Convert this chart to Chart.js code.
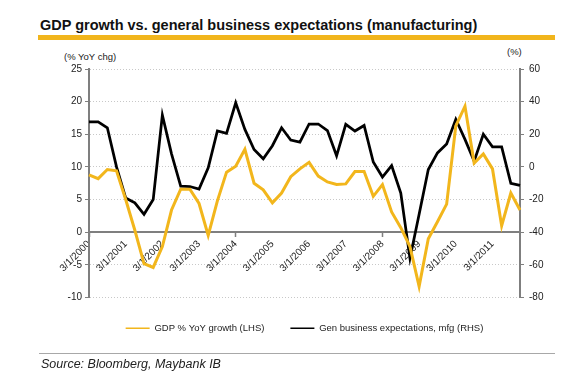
<!DOCTYPE html>
<html><head><meta charset="utf-8">
<script src="https://cdn.jsdelivr.net/npm/chart.js@4.4.0/dist/chart.umd.min.js"></script>
<style>
html,body{margin:0;padding:0;background:#fff;}
#wrap{position:relative;width:572px;height:378px;overflow:hidden;font-family:"Liberation Sans",Arial,sans-serif;}
#c{position:absolute;left:0;top:0;}
.t{position:absolute;white-space:nowrap;color:#111;line-height:1;}
</style></head><body>
<div id="wrap">
<div class="t" style="left:40px;top:18px;font-weight:bold;font-size:14.5px;">GDP growth vs. general business expectations (manufacturing)</div>
<div style="position:absolute;left:38px;top:35px;width:517px;height:5px;background:#F1B51C"></div>
<div class="t" style="left:64px;top:52px;font-size:9.5px;color:#222;">(% YoY chg)</div>
<div class="t" style="left:507px;top:47px;font-size:9.5px;color:#222;">(%)</div>
<canvas id="c" width="572" height="378"></canvas>
<div style="position:absolute;left:39px;top:353px;width:516px;height:1px;background:#a8a8a8"></div>
<div class="t" style="left:41px;top:358px;font-size:12.5px;font-style:italic;color:#222;">Source: Bloomberg, Maybank IB</div>
</div>
<script>
const categories = [
  '3/1/2000','6/1/2000','9/1/2000','12/1/2000',
  '3/1/2001','6/1/2001','9/1/2001','12/1/2001',
  '3/1/2002','6/1/2002','9/1/2002','12/1/2002',
  '3/1/2003','6/1/2003','9/1/2003','12/1/2003',
  '3/1/2004','6/1/2004','9/1/2004','12/1/2004',
  '3/1/2005','6/1/2005','9/1/2005','12/1/2005',
  '3/1/2006','6/1/2006','9/1/2006','12/1/2006',
  '3/1/2007','6/1/2007','9/1/2007','12/1/2007',
  '3/1/2008','6/1/2008','9/1/2008','12/1/2008',
  '3/1/2009','6/1/2009','9/1/2009','12/1/2009',
  '3/1/2010','6/1/2010','9/1/2010','12/1/2010',
  '3/1/2011','6/1/2011','9/1/2011','12/1/2011'
];
const tickLabels = ['3/1/2000','3/1/2001','3/1/2002','3/1/2003','3/1/2004','3/1/2005',
  '3/1/2006','3/1/2007','3/1/2008','3/1/2009','3/1/2010','3/1/2011'];
const gdpGrowth = [
  8.8, 8.2, 9.6, 9.4,
  5.0, 0.3, -4.8, -5.4,
  -2.2, 3.4, 6.6, 6.6,
  4.4, -0.5, 4.8, 9.2,
  10.1, 12.7, 7.5, 6.5,
  4.5, 6.0, 8.5, 9.7,
  10.7, 8.6, 7.7, 7.3,
  7.4, 9.3, 9.3, 5.5,
  7.3, 3.1, 0.7, -2.2,
  -8.3, -1.0, 1.6, 4.3,
  16.3, 19.3, 10.6, 12.0,
  9.7, 1.0, 6.0, 3.4
];
const businessExpectations = [
  27.6, 27.6, 24, 0,
  -19, -22, -29, -20,
  31.7, 8, -11.8, -12,
  -13.6, -0.6, 22, 20.6,
  39.3, 23, 10.7, 5,
  13, 24, 16.5, 15.2,
  26.3, 26.3, 22.3, 6.8,
  26.1, 22, 25.4, 3,
  -6.2, 0.8, -16, -56,
  -29, -1.6, 8.6, 14,
  29.2, 16.9, 3.5, 20,
  12.3, 12.3, -10, -11.3
];
const leftAxis = {min: -10, max: 25, step: 5};
const rightAxis = {min: -80, max: 60, step: 20};

const FAMILY = '"Liberation Sans", Arial, sans-serif';
Chart.defaults.font.family = FAMILY;
const AXIS = '#7f7f7f';

new Chart(document.getElementById('c'), {
  type: 'line',
  data: {
    labels: categories,
    datasets: [
      {label: 'GDP % YoY growth (LHS)', data: gdpGrowth, yAxisID: 'y',
       borderColor: '#F2B61C', backgroundColor: '#F2B61C', borderWidth: 3,
       pointRadius: 0, tension: 0},
      {label: 'Gen business expectations, mfg (RHS)', data: businessExpectations, yAxisID: 'y1',
       borderColor: '#000000', backgroundColor: '#000000', borderWidth: 2.75,
       pointRadius: 0, tension: 0}
    ]
  },
  options: {
    responsive: false, animation: false, devicePixelRatio: 1,
    layout: {padding: {top: 69, bottom: 35, left: 0, right: 0}},
    plugins: {
      tooltip: {enabled: false},
      legend: {
        position: 'bottom', fullSize: false, align: 'center',
        labels: {
          boxWidth: 24, boxHeight: 0, padding: 26, color: '#222',
          font: {size: 9.5, family: FAMILY},
          generateLabels: ch => Chart.defaults.plugins.legend.labels.generateLabels(ch)
            .map(it => Object.assign(it, {lineWidth: 1.5}))
        }
      }
    },
    scales: {
      x: {
        type: 'category', position: {y: 0}, offset: false,
        grid: {drawOnChartArea: false, drawTicks: true, tickLength: 4, tickWidth: 1.5,
          color: ctx => (tickLabels.includes(categories[ctx.index]) ? AXIS : 'rgba(0,0,0,0)')},
        border: {display: true, color: AXIS, width: 2},
        ticks: {autoSkip: false, maxRotation: 45, minRotation: 45, padding: 2, color: '#222',
          font: {size: 10, family: FAMILY},
          callback: (v, i) => tickLabels.includes(categories[i]) ? categories[i] : null}
      },
      y: {
        position: 'left', min: leftAxis.min, max: leftAxis.max,
        afterFit: s => { s.width = 89; },
        ticks: {stepSize: leftAxis.step, padding: 3, color: '#222', font: {size: 10, family: FAMILY}},
        grid: {color: '#c8c8c8', lineWidth: 1, tickLength: 4, tickColor: AXIS, tickWidth: 1, tickBorderDash: []},
        border: {color: AXIS, width: 2, dash: [1, 2]}
      },
      y1: {
        position: 'right', min: rightAxis.min, max: rightAxis.max,
        afterFit: s => { s.width = 52; },
        ticks: {stepSize: rightAxis.step, padding: 5, color: '#222', font: {size: 10, family: FAMILY}},
        grid: {drawOnChartArea: false, tickLength: 4, color: AXIS, tickColor: AXIS, tickWidth: 1},
        border: {color: AXIS, width: 2}
      }
    }
  }
});
</script>
</body></html>
